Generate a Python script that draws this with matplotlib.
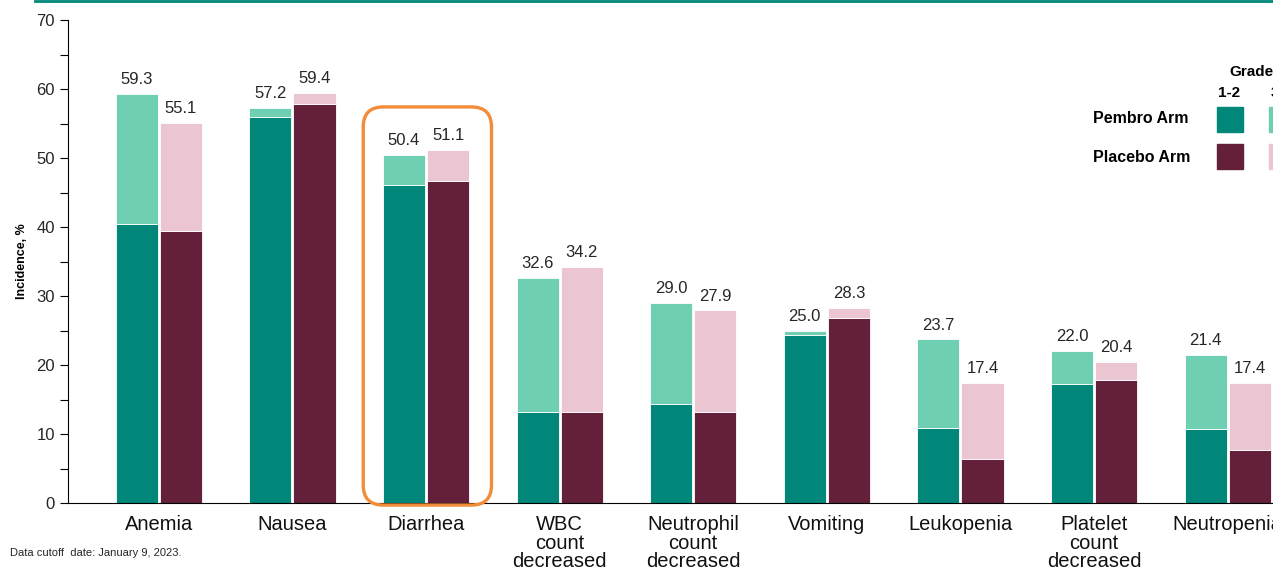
import matplotlib
matplotlib.use("Agg")
import matplotlib.pyplot as plt
import numpy as np
from matplotlib.patches import FancyBboxPatch, Rectangle
from matplotlib.lines import Line2D
from matplotlib.transforms import IdentityTransform

plt.rcParams['font.family'] = ['Liberation Sans', 'DejaVu Sans']

# ==========================
# DADOS
# ==========================

categorias = ["Anemia", "Nausea", "Diarrhea", "WBC\ncount\ndecreased",
              "Neutrophil\ncount\ndecreased", "Vomiting", "Leukopenia",
              "Platelet\ncount\ndecreased", "Neutropenia"]

pembro_total = [59.3, 57.2, 50.4, 32.6, 29.0, 25.0, 23.7, 22.0, 21.4]
placebo_total = [55.1, 59.4, 51.1, 34.2, 27.9, 28.3, 17.4, 20.4, 17.4]

# grau 1-2 (parte escura da barra)
pembro_g12 = [40.4, 55.9, 46.1, 13.2, 14.3, 24.3, 10.9, 17.2, 10.7]
placebo_g12 = [39.4, 57.8, 46.7, 13.2, 13.2, 26.8, 6.4, 17.8, 7.7]

cor_pembro_12 = "#00877A"
cor_pembro_3 = "#6FCFB3"
cor_placebo_12 = "#64203A"
cor_placebo_3 = "#ECC5D2"

# ==========================
# FIGURA
# ==========================

fig = plt.figure(figsize=(12.73, 5.69), dpi=100)
ax = fig.add_axes([68 / 1273, 66 / 569, 1360 / 1273, 483 / 569])

x = np.arange(len(categorias))
w = 0.315
off = 0.165

pembro_g3 = np.array(pembro_total) - np.array(pembro_g12)
placebo_g3 = np.array(placebo_total) - np.array(placebo_g12)

ax.bar(x - off, pembro_g12, w, color=cor_pembro_12, edgecolor="white", linewidth=0.6)
ax.bar(x - off, pembro_g3, w, bottom=pembro_g12, color=cor_pembro_3, edgecolor="white", linewidth=0.6)
ax.bar(x + off, placebo_g12, w, color=cor_placebo_12, edgecolor="white", linewidth=0.6)
ax.bar(x + off, placebo_g3, w, bottom=placebo_g12, color=cor_placebo_3, edgecolor="white", linewidth=0.6)

for i in range(len(categorias)):
    ax.annotate(f"{pembro_total[i]:.1f}", (x[i] - off, pembro_total[i]),
                xytext=(0, 5), textcoords="offset points", ha="center", va="bottom",
                fontsize=12, color="#262626")
    ax.annotate(f"{placebo_total[i]:.1f}", (x[i] + off, placebo_total[i]),
                xytext=(0, 5), textcoords="offset points", ha="center", va="bottom",
                fontsize=12, color="#262626")

ax.set_xlim(-0.68, 9.5)
ax.set_ylim(0, 70)
ax.set_yticks(range(0, 71, 10))
ax.set_yticks(range(5, 70, 10), minor=True)
ax.tick_params(axis="y", which="both", direction="out", length=6, width=0.8,
               labelsize=12, labelcolor="#262626")
ax.tick_params(axis="x", length=0, labelsize=14.5, pad=9)
ax.set_xticks(x)
ax.set_xticklabels(categorias, linespacing=0.95, color="#111111")
ax.spines["top"].set_visible(False)
ax.spines["right"].set_visible(False)
ax.set_ylabel("Incidence, %", fontsize=9, fontweight="bold", labelpad=6)

# ==========================
# DESTAQUE DIARREIA
# ==========================

fig.canvas.draw()
p0 = ax.transData.transform((2 - 0.47, -0.3))
p1 = ax.transData.transform((2 + 0.49, 57.4))
caixa = FancyBboxPatch((p0[0], p0[1]), p1[0] - p0[0], p1[1] - p0[1],
                       boxstyle="round,pad=0,rounding_size=20",
                       transform=IdentityTransform(), fill=False,
                       edgecolor="#F28C38", linewidth=2.4, clip_on=False)
fig.add_artist(caixa)

# ==========================
# LEGENDA
# ==========================

fig.text(1229 / 1273, 1 - 72 / 569, "Grade", fontsize=11, fontweight="bold", va="center")
fig.text(1229 / 1273, 1 - 93 / 569, "1-2", fontsize=11, fontweight="bold", va="center", ha="center")
fig.text(1282 / 1273, 1 - 93 / 569, "3-5", fontsize=11, fontweight="bold", va="center", ha="center")
fig.text(1093 / 1273, 1 - 119 / 569, "Pembro Arm", fontsize=11.5, fontweight="bold", va="center")
fig.text(1093 / 1273, 1 - 157 / 569, "Placebo Arm", fontsize=11.5, fontweight="bold", va="center")

for (cx, cy, cor) in [(1217, 107, cor_pembro_12), (1269, 107, cor_pembro_3),
                      (1217, 144, cor_placebo_12), (1269, 144, cor_placebo_3)]:
    fig.add_artist(Rectangle((cx / 1273, 1 - (cy + 25) / 569), 26 / 1273, 25 / 569,
                             transform=fig.transFigure, color=cor))

# linha superior
fig.add_artist(Line2D([35 / 1273, 1], [1 - 1 / 569, 1 - 1 / 569],
                      transform=fig.transFigure, color="#00877A", linewidth=2))

fig.text(10 / 1273, 1 - 553 / 569, "Data cutoff  date: January 9, 2023.",
         fontsize=8, color="#262626", va="center")

fig.savefig("out.png", dpi=100)
